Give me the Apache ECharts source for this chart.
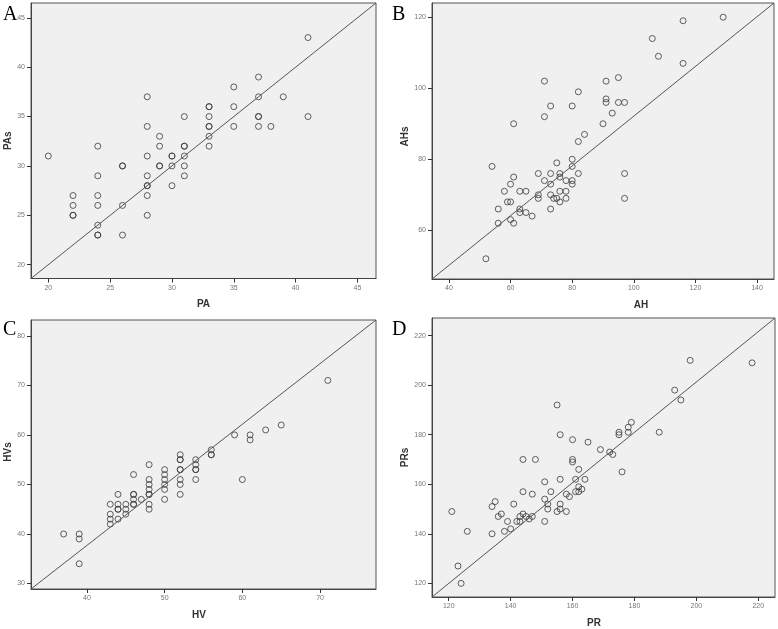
<!DOCTYPE html>
<html>
<head>
<meta charset="utf-8">
<script src="https://cdn.jsdelivr.net/npm/echarts@6/dist/echarts.min.js"></script>
<style>
html, body { margin: 0; padding: 0; background: #fff; }
#chart { width: 778px; height: 629px; }
</style>
</head>
<body>
<div id="chart"></div>
<script>
// A: PA vs PAs
const paValues  = [41,37,35,28,37,39,33,33,35,31,33,37,37,41,28,33,33,35,37,38,29,33,24,29,31,31,33,20,28,30,30,31,26,26,29,29,30,31,24,28,31,28,28,30,22,24,28,22,24,26,22,22,28,24,24,24,26];
const pasValues = [43,39,38,37,37,37,36,36,36,35,35,35,35,35,34,34,34,34,34,34,33,33,32,32,32,32,32,31,31,31,31,31,30,30,30,30,30,30,29,29,29,28,28,28,27,27,27,26,26,26,25,25,25,24,23,23,23];
const paTicks = [20,25,30,35,40,45];

// B: AH vs AHs
const ahValues  = [129,116,106,108,116,71,91,95,82,91,91,95,97,73,80,71,93,61,90,84,82,80,75,54,80,61,69,73,76,82,97,76,71,78,80,60,73,80,58,63,65,76,78,69,73,69,74,75,78,97,59,60,76,56,63,73,63,65,67,60,56,61,52];
const ahsValues = [120,119,114,109,107,102,102,103,99,97,96,96,96,95,95,92,93,90,90,87,85,80,79,78,78,75,76,76,76,76,76,75,74,74,74,73,73,73,71,71,71,71,71,70,70,69,69,69,69,69,68,68,68,66,66,66,65,65,64,63,62,62,52];
const ahXTicks = [40,60,80,100,120,140];
const ahYTicks = [60,80,100,120];

// C: HV vs HVs
const hvValues  = [71,59,65,63,61,61,56,56,56,54,54,54,54,54,60,52,52,52,52,52,52,52,52,50,50,50,50,50,50,48,48,48,48,48,48,48,48,47,46,46,46,46,46,46,45,45,45,44,44,44,44,44,43,43,43,43,37,39,39,39];
const hvsValues = [71,60,62,61,60,59,57,56,56,55,54,53,53,51,51,56,55,55,53,53,51,50,48,53,52,51,50,49,47,54,51,50,49,48,48,46,45,47,52,48,48,47,46,46,46,45,44,48,46,45,45,43,46,44,43,42,40,40,39,34];
const hvXTicks = [40,50,60,70];
const hvYTicks = [30,40,50,60,70,80];

// D: PR vs PRs
const prValues  = [218,198,193,195,155,179,178,178,175,175,188,156,160,165,169,172,173,144,148,160,160,162,176,156,151,161,164,162,163,161,162,144,153,147,158,159,151,152,152,156,156,158,155,151,135,134,141,121,137,136,144,143,145,146,147,139,142,143,140,138,126,134,123,124];
const prsValues = [209,210,198,194,192,185,183,181,181,180,181,180,178,177,174,173,172,170,170,170,169,166,165,162,161,162,162,159,158,157,157,157,157,156,156,155,154,152,150,152,150,149,149,145,153,151,152,149,148,147,148,147,147,146,147,145,145,145,142,141,141,140,127,120];
const prTicks = [120,140,160,180,200,220];

const panels = [
  { letter: 'A', xName: 'PA', yName: 'PAs', xs: paValues, ys: pasValues, xTicks: paTicks, yTicks: paTicks,
    grid: { left: 31, top: 3, width: 345, height: 275.5 }, xRange: [18.6, 46.5], yRange: [18.6, 46.5],
    xPad: [0, 0, 0, 0], yPad: [0, 0, 0, 0], yGap: 10, letterPos: [3, 5] },
  { letter: 'B', xName: 'AH', yName: 'AHs', xs: ahValues, ys: ahsValues, xTicks: ahXTicks, yTicks: ahYTicks,
    grid: { left: 432, top: 3, width: 342, height: 276 }, xRange: [34.5, 145.5], yRange: [46.3, 124],
    xPad: [0, 0, 0, 76], yPad: [0, 0, 0, 9], yGap: 13, letterPos: [392, 5] },
  { letter: 'C', xName: 'HV', yName: 'HVs', xs: hvValues, ys: hvsValues, xTicks: hvXTicks, yTicks: hvYTicks,
    grid: { left: 31, top: 320, width: 345, height: 269 }, xRange: [32.8, 77.2], yRange: [28.9, 83.2],
    xPad: [0, 9, 0, 0], yPad: [0, 0, 0, 5], yGap: 10, letterPos: [3, 320] },
  { letter: 'D', xName: 'PR', yName: 'PRs', xs: prValues, ys: prsValues, xTicks: prTicks, yTicks: prTicks,
    grid: { left: 432, top: 318, width: 343, height: 279.5 }, xRange: [114.6, 225.4], yRange: [114.5, 227.1],
    xPad: [0, 19, 0, 0], yPad: [0, 0, 0, 0], yGap: 13, letterPos: [392, 320] }
];

const labelStyle = { fontFamily: 'Liberation Sans', fontSize: 7, color: '#777' };
const nameStyle = { fontFamily: 'Liberation Sans', fontSize: 10, fontWeight: 'bold', color: '#333' };

const option = {
  backgroundColor: '#fff',
  animation: false,
  grid: [], xAxis: [], yAxis: [], series: [], graphic: []
};

panels.forEach((p, i) => {
  option.grid.push(Object.assign({
    show: true, backgroundColor: '#f0f0f0', borderColor: '#555', borderWidth: 1
  }, p.grid));

  option.xAxis.push({
    type: 'value', gridIndex: i, min: p.xRange[0], max: p.xRange[1],
    name: p.xName, nameLocation: 'middle', nameGap: 21,
    nameTextStyle: Object.assign({ padding: p.xPad }, nameStyle),
    axisLine: { show: true, onZero: false, lineStyle: { color: '#444', width: 1 } },
    axisTick: { show: true, length: 4, customValues: p.xTicks, lineStyle: { color: '#333' } },
    axisLabel: Object.assign({ customValues: p.xTicks, margin: 6 }, labelStyle),
    splitLine: { show: false }
  });

  option.yAxis.push({
    type: 'value', gridIndex: i, min: p.yRange[0], max: p.yRange[1],
    name: p.yName, nameLocation: 'middle', nameGap: p.yGap,
    nameTextStyle: Object.assign({ padding: p.yPad }, nameStyle),
    axisLine: { show: true, onZero: false, lineStyle: { color: '#444', width: 1 } },
    axisTick: { show: true, length: 4, customValues: p.yTicks, lineStyle: { color: '#333' } },
    axisLabel: Object.assign({ customValues: p.yTicks, margin: 6 }, labelStyle),
    splitLine: { show: false }
  });

  option.series.push({
    type: 'line', xAxisIndex: i, yAxisIndex: i,
    data: [[p.xRange[0], p.yRange[0]], [p.xRange[1], p.yRange[1]]],
    symbol: 'none', silent: true,
    lineStyle: { color: '#555', width: 1 }
  });

  option.series.push({
    type: 'scatter', xAxisIndex: i, yAxisIndex: i,
    data: p.xs.map((x, k) => [x, p.ys[k]]),
    symbol: 'circle', symbolSize: 6,
    itemStyle: { color: 'transparent', borderColor: '#3a3a3a', borderWidth: 1 }
  });

  option.graphic.push({
    type: 'text', left: p.letterPos[0], top: p.letterPos[1],
    style: { text: p.letter, font: '20px "Liberation Serif"', fill: '#000' }
  });
});

const chart = echarts.init(document.getElementById('chart'));
chart.setOption(option);
</script>
</body>
</html>
